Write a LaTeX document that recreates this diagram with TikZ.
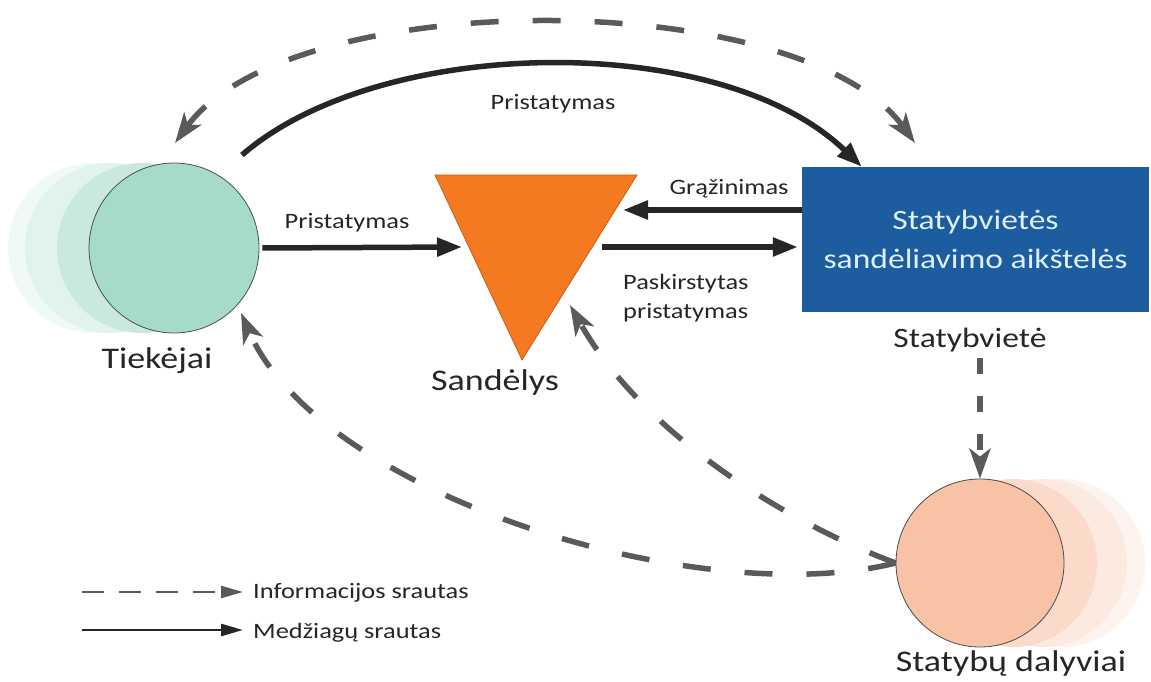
\documentclass[tikz,border=0pt]{standalone}
\usepackage{fontspec}
\setmainfont{Carlito}[FakeStretch=1.2]
\usetikzlibrary{arrows.meta,positioning}

\definecolor{mintfill}{HTML}{A6DBC8}
\definecolor{peachfill}{HTML}{F8C2A6}
\definecolor{warehouse}{HTML}{F47920}
\definecolor{siteblue}{HTML}{1D5C9F}
\definecolor{sitetext}{HTML}{DCEFFA}
\definecolor{flowdark}{HTML}{262626}
\definecolor{infogray}{HTML}{5A5A5A}

\begin{document}
\begin{tikzpicture}[x=1bp,y=-1bp,
  bigtxt/.style={font=\fontsize{30bp}{34bp}\selectfont, text=flowdark, inner sep=0pt, anchor=base},
  smalltxt/.style={font=\fontsize{22bp}{29bp}\selectfont, text=flowdark, inner sep=0pt, anchor=base},
  material/.style={draw=flowdark, line width=5.5bp, -{Triangle[length=25bp,width=18bp]}},
  info/.style={draw=infogray, line width=5.5bp, dash pattern=on 28bp off 34bp, -{Stealth[length=30bp,width=21bp,inset=8bp]}},
  infoboth/.style={info, {Stealth[length=30bp,width=21bp,inset=8bp]}-{Stealth[length=30bp,width=21bp,inset=8bp]}},
  party/.style={circle, draw=black!70, line width=0.8bp, minimum size=170bp, inner sep=0pt}]

\useasboundingbox (0,0) rectangle (1151,682);

% Tiekejai (with fading copies)
\fill[mintfill!18] (93,248) circle[radius=85bp];
\fill[mintfill!35] (110,248) circle[radius=85bp];
\fill[mintfill!60] (142,248) circle[radius=85bp];
\node[party, fill=mintfill] (tiek) at (174,248) {};
\node[bigtxt] (tiekLbl) at (157,368) {Tiekėjai};

% Sandelys
\coordinate (sandTL) at (435,175);
\coordinate (sandTR) at (637,175);
\coordinate (sandB) at (522,360);
\filldraw[fill=warehouse, draw=warehouse!80!black, line width=0.8bp] (sandTL) -- (sandTR) -- (sandB) -- cycle;
\node[bigtxt] (sandLbl) at (495,390) {Sandėlys};

% Statybviete
\node[fill=siteblue, minimum width=347bp, minimum height=145bp, inner sep=0pt, align=center,
  text=sitetext, font=\fontsize{28bp}{39bp}\selectfont] (site) at (975.5,239.5) {Statybvietės\\sandėliavimo aikštelės};
\node[bigtxt, font=\fontsize{28bp}{34bp}\selectfont] (siteLbl) at (970,347) {Statybvietė};

% Statybu dalyviai (with fading copies)
\fill[peachfill!18] (1061,563) circle[radius=84bp];
\fill[peachfill!35] (1043,563) circle[radius=84bp];
\fill[peachfill!60] (1013,563) circle[radius=84bp];
\node[party, fill=peachfill, minimum size=168bp] (dal) at (980,563) {};
\node[bigtxt] (dalLbl) at (1011,671) {Statybų dalyviai};

% Material flows
\coordinate (sandIn) at (462,247);
\draw[material] ([xshift=3bp]tiek.east) -- (sandIn);
\node[smalltxt] (pristLbl) at (347,229) {Pristatymas};

\coordinate (sandRet) at (623,210);
\draw[material] (site.west |- sandRet) -- (sandRet);
\node[smalltxt] (returnLbl) at (729,195) {Grąžinimas};

\coordinate (sandOut) at (602,247);
\draw[material] (sandOut) -- ([xshift=-4bp]site.west |- sandOut);
\node[smalltxt, anchor=north west, align=left] (distLbl) at (623,274) {Paskirstytas\\pristatymas};

\coordinate (arcStart) at (242,155);
\draw[material] (arcStart) .. controls (380,35) and (720,30) .. ([xshift=60bp]site.north west);
\node[smalltxt] (topLbl) at (553,110) {Pristatymas};

% Information flows
\coordinate (tiekTop) at (175,143);
\coordinate (siteTop) at (915,143);
\draw[infoboth] (tiekTop) .. controls (290,-15) and (800,-15) .. (siteTop);

\coordinate (siteDown) at (980,358);
\draw[info, dash pattern=on 16bp off 22bp] (siteDown) -- (dal.north);

\coordinate (sandBack) at (570,305);
\draw[info] (dal.west) .. controls (780,520) and (640,430) .. (sandBack);
\coordinate (tiekBack) at (241,313);
\draw[info] (dal.west) .. controls (700,612) and (320,495) .. (tiekBack);

% Legend
\coordinate (legInfoA) at (82,592);
\coordinate (legInfoB) at (243,592);
\draw[draw=infogray, line width=2.5bp, dash pattern=on 22bp off 15bp, -{Triangle[length=22bp,width=12bp]}] (legInfoA) -- (legInfoB);
\node[smalltxt, anchor=base west] (legInfo) at (253,598) {Informacijos srautas};
\coordinate (legMatA) at (82,630);
\coordinate (legMatB) at (243,630);
\draw[draw=flowdark, line width=2.5bp, -{Triangle[length=22bp,width=12bp]}] (legMatA) -- (legMatB);
\node[smalltxt, anchor=base west] (legMat) at (253,638) {Medžiagų srautas};

\end{tikzpicture}
\end{document}
